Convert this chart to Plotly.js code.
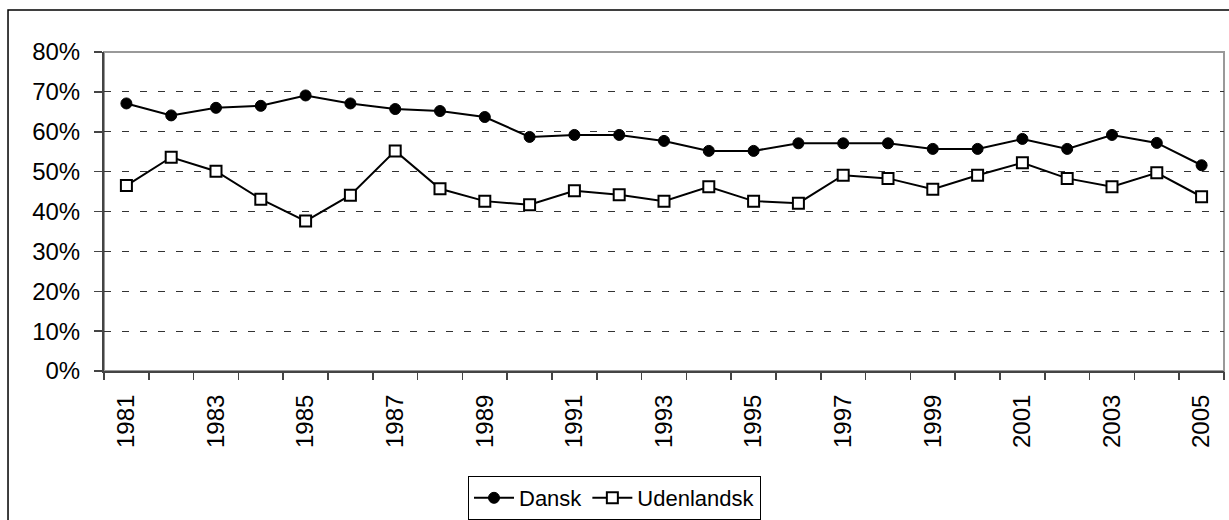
<!DOCTYPE html>
<html>
<head>
<meta charset="utf-8">
<script src="https://cdn.plot.ly/plotly-3.0.1.min.js"></script>
<style>html,body{margin:0;padding:0;background:#fff;} #chart{width:1229px;height:520px;}</style>
</head>
<body>
<div id="chart"></div>
<script>
const years = ['1981','1982','1983','1984','1985','1986','1987','1988','1989','1990','1991','1992','1993','1994','1995','1996','1997','1998','1999','2000','2001','2002','2003','2004','2005'];
const labelYears = ['1981','1983','1985','1987','1989','1991','1993','1995','1997','1999','2001','2003','2005'];
const dansk = [0.671,0.641,0.660,0.665,0.691,0.671,0.657,0.652,0.637,0.587,0.592,0.592,0.577,0.552,0.552,0.571,0.571,0.571,0.557,0.557,0.582,0.557,0.592,0.572,0.516];
const udenlandsk = [0.465,0.536,0.501,0.431,0.376,0.441,0.552,0.457,0.426,0.417,0.452,0.442,0.426,0.462,0.426,0.421,0.491,0.483,0.456,0.491,0.522,0.483,0.462,0.497,0.437];
const seriesNames = ['Dansk','Udenlandsk'];

const font = {family: 'Liberation Sans, Arial, sans-serif', size: 22, color: '#000'};
const tickFont = {family: 'Liberation Sans, Arial, sans-serif', size: 24, color: '#000'};

// category boundaries (between categories) for tick marks
const n = years.length;
const boundaries = [];
for (let i = 0; i <= n; i++) boundaries.push(i - 0.5);
const xRange = [-0.5, n - 0.5];

const traces = [
  {x: years, y: dansk, name: seriesNames[0], type: 'scatter', mode: 'lines+markers',
   line: {color: '#000', width: 2},
   marker: {symbol: 'circle', size: 11, color: '#000', line: {color: '#000', width: 1}}},
  {x: years, y: udenlandsk, name: seriesNames[1], type: 'scatter', mode: 'lines+markers',
   line: {color: '#000', width: 2},
   marker: {symbol: 'square', size: 11, color: '#fff', line: {color: '#000', width: 2}}}
];

const layout = {
  width: 1229, height: 520,
  margin: {l: 104, r: 5, t: 52, b: 149},
  paper_bgcolor: '#fff', plot_bgcolor: '#fff',
  font: font,
  showlegend: true,
  legend: {orientation: 'h', xref: 'container', yref: 'container', x: 0.5, y: 0.0,
           xanchor: 'center', yanchor: 'bottom', bordercolor: '#000', borderwidth: 1,
           bgcolor: '#fff', font: font, itemwidth: 40},
  xaxis: {type: 'category', range: xRange, tickmode: 'array', tickvals: labelYears, ticktext: labelYears,
          ticks: '', tickangle: -90, ticklabelstandoff: 12,
          showline: true, linecolor: '#444', linewidth: 2,
          showgrid: false, zeroline: false, fixedrange: true, tickfont: tickFont},
  xaxis2: {type: 'linear', overlaying: 'x', side: 'bottom', anchor: 'y', range: xRange,
           tickmode: 'array', tickvals: boundaries, showticklabels: false,
           ticks: 'outside', ticklen: 8, tickcolor: '#444', tickwidth: 1.5,
           showline: false, showgrid: false, zeroline: false, fixedrange: true},
  yaxis: {range: [0, 0.8], tickmode: 'linear', tick0: 0, dtick: 0.1, tickformat: '.0%',
          ticks: 'outside', ticklen: 8, tickcolor: '#444', tickwidth: 1.5, ticklabelstandoff: 9,
          showline: true, linecolor: '#444', linewidth: 2,
          showgrid: true, gridcolor: '#333', gridwidth: 1, griddash: '7px,11px',
          zeroline: false, fixedrange: true, tickfont: tickFont},
  shapes: [
    {type: 'rect', xref: 'paper', yref: 'paper', x0: 0, x1: 1, y0: 0, y1: 1,
     line: {color: '#999', width: 2}, layer: 'below'},
    {type: 'rect', xref: 'paper', yref: 'paper', x0: -0.0857, x1: 1.0098, y0: -0.483, y1: 1.1317,
     line: {color: '#000', width: 1.5}, fillcolor: 'rgba(0,0,0,0)', layer: 'below'}
  ]
};

// invisible helper trace so the tick-mark axis is drawn
traces.push({x: [xRange[0]], y: [0], xaxis: 'x2', yaxis: 'y', type: 'scatter', mode: 'none',
             showlegend: false, hoverinfo: 'skip'});

Plotly.newPlot('chart', traces, layout, {displayModeBar: false, staticPlot: true});
</script>
</body>
</html>
